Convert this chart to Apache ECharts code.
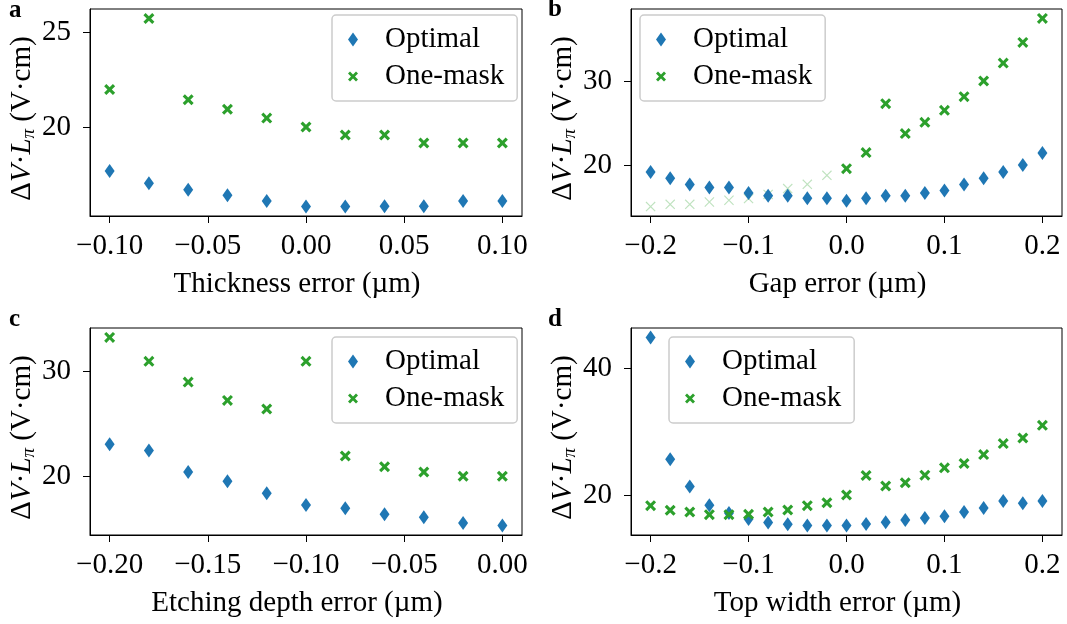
<!DOCTYPE html>
<html>
<head>
<meta charset="utf-8">
<script src="https://cdn.jsdelivr.net/npm/echarts@6/dist/echarts.min.js"></script>
<style>
html,body{margin:0;padding:0;background:#fff;}
#chart{width:1067px;height:624px;}
</style>
</head>
<body>
<div id="chart"></div>
<script>
// ---------- data ----------
const thicknessX = [-0.10,-0.08,-0.06,-0.04,-0.02,0.00,0.02,0.04,0.06,0.08,0.10];
const thicknessOptimal = [17.68,17.03,16.70,16.40,16.10,15.81,15.81,15.83,15.83,16.10,16.10];
const thicknessOneMask = [21.98,25.72,21.44,20.94,20.47,20.00,19.58,19.58,19.16,19.16,19.16];

const gapX = [-0.20,-0.18,-0.16,-0.14,-0.12,-0.10,-0.08,-0.06,-0.04,-0.02,0.00,0.02,0.04,0.06,0.08,0.10,0.12,0.14,0.16,0.18,0.20];
const gapOptimal = [19.17,18.42,17.67,17.31,17.31,16.67,16.35,16.35,16.04,16.04,15.76,16.04,16.35,16.35,16.67,16.98,17.67,18.42,19.17,20.00,21.43];
const gapFadedX = [-0.20,-0.18,-0.16,-0.14,-0.12,-0.10,-0.08,-0.06,-0.04,-0.02];
const gapOneMaskFaded = [15.05,15.32,15.32,15.60,15.80,16.00,16.50,17.19,17.70,18.77];
const gapSolidX = [0.00,0.02,0.04,0.06,0.08,0.10,0.12,0.14,0.16,0.18,0.20];
const gapOneMask = [19.57,21.48,27.31,23.74,25.08,26.51,28.14,30.00,32.14,34.60,37.46];

const etchX = [-0.20,-0.18,-0.16,-0.14,-0.12,-0.10,-0.08,-0.06,-0.04,-0.02,0.00];
const etchOptimal = [23.06,22.48,20.41,19.52,18.38,17.26,16.94,16.37,16.08,15.54,15.29];
const etchOneMask = [33.28,30.99,29.01,27.26,26.43,30.99,21.94,20.92,20.41,20.00,20.00];

const widthX = [-0.20,-0.18,-0.16,-0.14,-0.12,-0.10,-0.08,-0.06,-0.04,-0.02,0.00,0.02,0.04,0.06,0.08,0.10,0.12,0.14,0.16,0.18,0.20];
const widthOptimal = [44.93,25.67,21.36,18.37,17.17,16.22,15.64,15.38,15.17,15.17,15.17,15.43,15.70,16.06,16.38,16.64,17.32,17.95,19.06,18.69,19.06];
const widthOneMask = [18.32,17.59,17.32,16.90,16.90,16.96,17.32,17.64,18.32,18.79,20.00,23.10,21.42,21.94,23.15,24.30,24.99,26.40,28.14,29.03,31.02];

const ticksXA = [-0.10,-0.05,0.00,0.05,0.10];
const ticksXB = [-0.2,-0.1,0.0,0.1,0.2];
const ticksXC = [-0.20,-0.15,-0.10,-0.05,0.00];
const ticksXD = [-0.2,-0.1,0.0,0.1,0.2];
const ticksYA = [20,25];
const ticksYB = [20,30];
const ticksYC = [20,30];
const ticksYD = [20,40];

const xNames = ['Thickness error (µm)','Gap error (µm)','Etching depth error (µm)','Top width error (µm)'];
const panelLetters = ['a','b','c','d'];
const seriesNames = ['Optimal','One-mask'];

// ---------- styling ----------
const FONT = '"Liberation Serif","Times New Roman",serif';
const FS = 29;
const BLUE = '#1f77b4';
const GREEN = '#2ca02c';
const DIAMOND = 'path://M0,-7 L5,0 L0,7 L-5,0 Z';
const XMARK = 'path://M0,2 L2,0 L5,3 L8,0 L10,2 L7,5 L10,8 L8,10 L5,7 L2,10 L0,8 L3,5 Z';
const XMARK_LEG = 'path://M-2,-2 M12,12 M0,2 L2,0 L5,3 L8,0 L10,2 L7,5 L10,8 L8,10 L5,7 L2,10 L0,8 L3,5 Z';
const THINX = 'path://M0,0.8 L0.8,0 L5,4.2 L9.2,0 L10,0.8 L5.8,5 L10,9.2 L9.2,10 L5,5.8 L0.8,10 L0,9.2 L4.2,5 Z';

function pairs(xs, ys){ return xs.map((x,i)=>[x, ys[i]]); }
function fmt(v, d){ const s = Math.abs(v).toFixed(d); return (v < -1e-9 ? '\u2212' : '') + s; }

const grids = [
  {left:90, top:9, width:432, height:207},
  {left:631, top:9, width:431, height:207},
  {left:90, top:328, width:432, height:207},
  {left:631, top:328, width:431, height:207}
];
const xRanges = [[-0.11,0.11],[-0.22,0.22],[-0.21,0.01],[-0.22,0.22]];
const yRanges = [[15.31,26.22],[13.93,38.58],[14.39,34.18],[13.68,46.42]];
const xTicks = [ticksXA, ticksXB, ticksXC, ticksXD];
const yTicks = [ticksYA, ticksYB, ticksYC, ticksYD];
const xDec = [2,1,2,1];

const yName = '{r|Δ}{i|V}{r|·}{i|L}{s|π}{r| (V·cm)}';

const xAxes = grids.map((g,i)=>({
  type:'value', gridIndex:i, min:xRanges[i][0], max:xRanges[i][1],
  splitLine:{show:false},
  axisLine:{show:true, onZero:false, lineStyle:{color:'#000', width:1}},
  axisTick:{show:true, length:7, lineStyle:{color:'#000', width:1}, customValues:xTicks[i]},
  axisLabel:{show:true, margin:16, fontFamily:FONT, fontSize:FS, color:'#000',
    customValues:xTicks[i], formatter:(v)=>fmt(v, xDec[i])},
  name:xNames[i], nameLocation:'middle', nameGap:54,
  nameTextStyle:{fontFamily:FONT, fontSize:FS, color:'#000', padding:[0,18,0,0]}
}));
const yAxes = grids.map((g,i)=>({
  type:'value', gridIndex:i, min:yRanges[i][0], max:yRanges[i][1],
  splitLine:{show:false},
  axisLine:{show:true, onZero:false, lineStyle:{color:'#000', width:1}},
  axisTick:{show:true, length:7, lineStyle:{color:'#000', width:1}, customValues:yTicks[i]},
  axisLabel:{show:true, margin:19, fontFamily:FONT, fontSize:FS, color:'#000',
    customValues:yTicks[i], formatter:(v)=>String(Math.round(v))},
  name:yName, nameLocation:'middle', nameGap:48,
  nameTextStyle:{fontFamily:FONT, fontSize:FS, color:'#000', padding:[0,12,0,0],
    rich:{
      r:{fontFamily:FONT, fontSize:FS, color:'#000'},
      i:{fontFamily:FONT, fontSize:FS, fontStyle:'italic', color:'#000'},
      s:{fontFamily:FONT, fontSize:19, fontStyle:'italic', color:'#000', padding:[12,0,0,0]}
    }}
}));

function scatter(name, gi, xs, ys, color, symbol, size, opacity){
  return {
    type:'scatter', name:name, xAxisIndex:gi, yAxisIndex:gi,
    data:pairs(xs, ys), symbol:symbol, symbolSize:size,
    itemStyle:{color:color, opacity:opacity==null?1:opacity},
    emphasis:{disabled:true}, silent:true
  };
}

const series = [
  scatter('Optimal',0,thicknessX,thicknessOptimal,BLUE,DIAMOND,[10,14]),
  scatter('One-mask',0,thicknessX,thicknessOneMask,GREEN,XMARK,[11,11]),
  scatter('faded',1,gapFadedX,gapOneMaskFaded,GREEN,THINX,[10,10],0.3),
  scatter('Optimal',1,gapX,gapOptimal,BLUE,DIAMOND,[10,14]),
  scatter('One-mask',1,gapSolidX,gapOneMask,GREEN,XMARK,[11,11]),
  scatter('Optimal',2,etchX,etchOptimal,BLUE,DIAMOND,[10,14]),
  scatter('One-mask',2,etchX,etchOneMask,GREEN,XMARK,[11,11]),
  scatter('Optimal',3,widthX,widthOptimal,BLUE,DIAMOND,[10,14]),
  scatter('One-mask',3,widthX,widthOneMask,GREEN,XMARK,[11,11])
];

const legendPos = [[332,15],[640,15],[332,337],[669,337]];
const legends = legendPos.map((p,i)=>({
  left:p[0], top:p[1], orient:'vertical',
  padding:[10,13,10,14], itemGap:8, itemWidth:20, itemHeight:14,
  backgroundColor:'rgba(255,255,255,0.8)', borderColor:'#cccccc', borderWidth:1.5, borderRadius:4,
  selectedMode:false,
  data:[
    {name:'Optimal', icon:DIAMOND, itemStyle:{color:BLUE}},
    {name:'One-mask', icon:XMARK_LEG, itemStyle:{color:GREEN}}
  ],
  textStyle:{fontFamily:FONT, fontSize:FS, color:'#000', lineHeight:29, padding:[0,0,0,17]}
}));

const letterPos = [[9,-2],[548,-3],[9,307],[548,307]];
const graphics = panelLetters.map((t,i)=>({
  type:'text', x:letterPos[i][0], y:letterPos[i][1], silent:true,
  style:{text:t, font:'bold 25px "Liberation Serif"', fill:'#000'}
}));

const chart = echarts.init(document.getElementById('chart'), null, {renderer:'canvas'});
chart.setOption({
  animation:false,
  backgroundColor:'#fff',
  grid: grids.map(g=>Object.assign({show:true, borderColor:'#000', borderWidth:1, backgroundColor:'transparent'}, g)),
  xAxis:xAxes, yAxis:yAxes, series:series, legend:legends, graphic:graphics
});
</script>
</body>
</html>
